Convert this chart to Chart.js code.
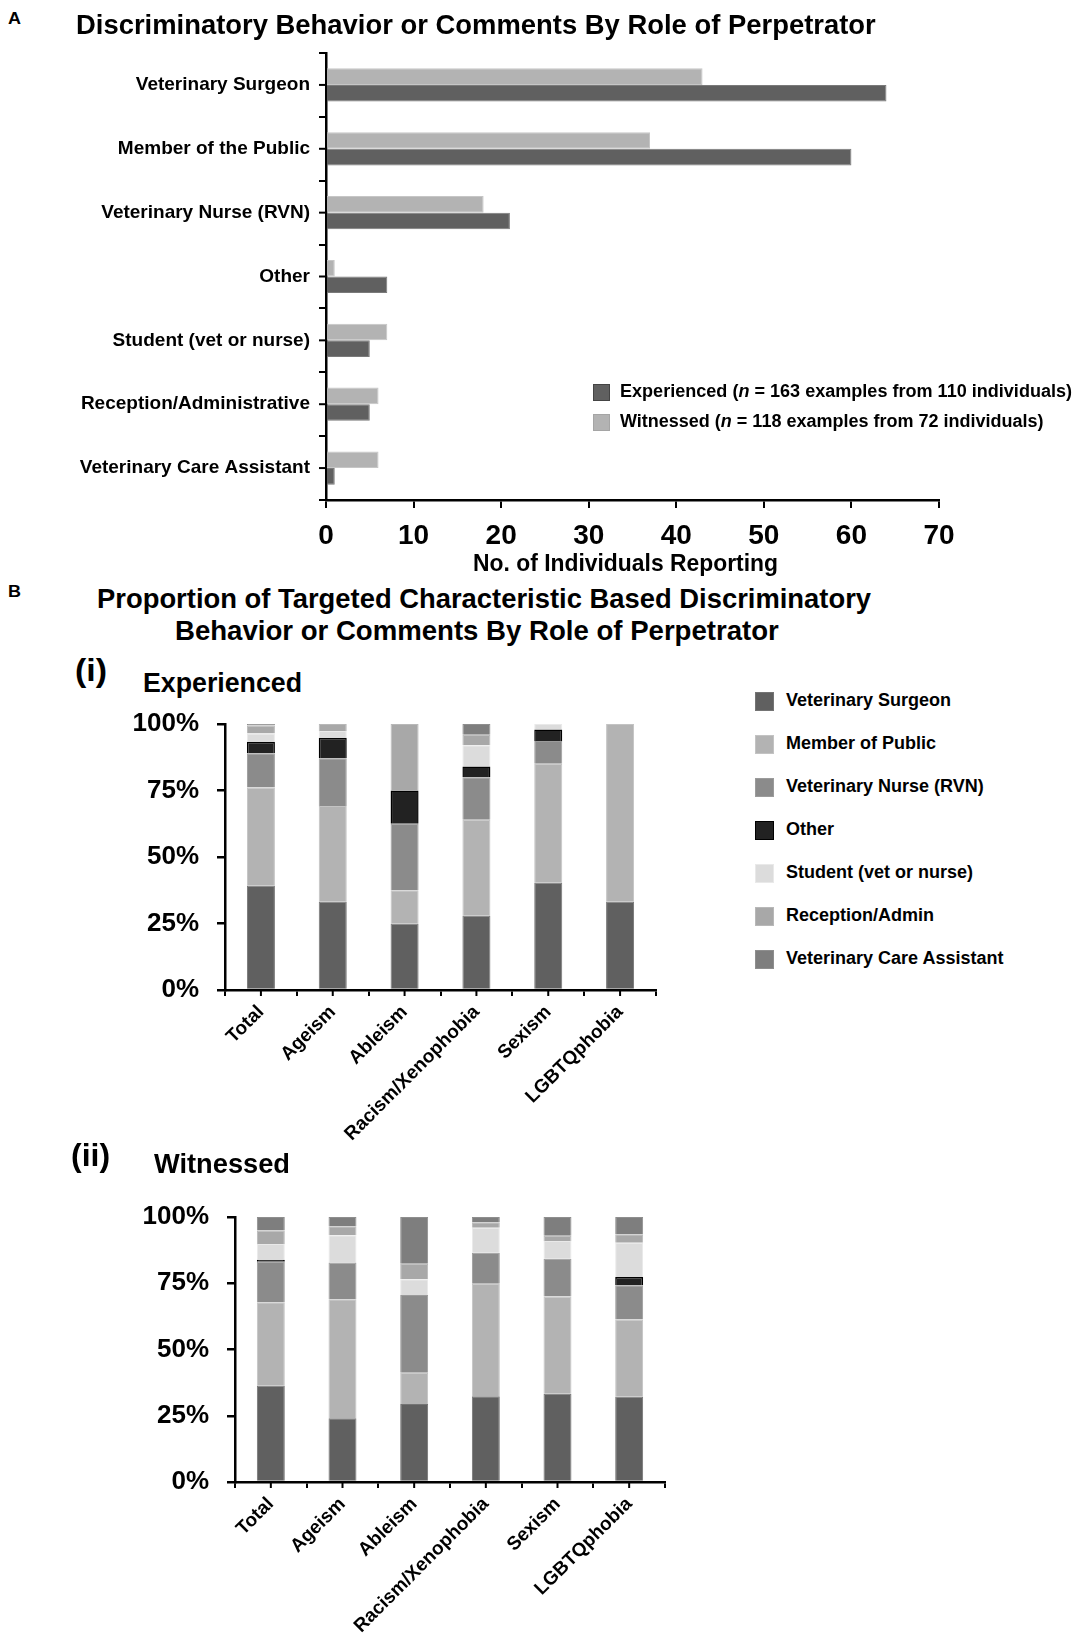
<!DOCTYPE html>
<html>
<head>
<meta charset="utf-8">
<script src="https://cdn.jsdelivr.net/npm/chart.js@4.4.1/dist/chart.umd.min.js"></script>
<style>
  body { margin: 0; background: #fff; }
  #page { position: relative; width: 1080px; height: 1637px; background: #fff; overflow: hidden;
          font-family: 'Liberation Sans', Arial, sans-serif; font-weight: bold; color: #000; }
  canvas { position: absolute; left: 0; }
  .txt { position: absolute; white-space: nowrap; line-height: 1.2; transform-origin: 0 50%; z-index: 2; }
  .sq { position: absolute; z-index: 2; box-sizing: border-box; }
</style>
</head>
<body>
<div id="page">
  <canvas id="chartA" width="1080" height="540" style="top:40px"></canvas>
  <canvas id="chartExp" width="700" height="460" style="top:700px"></canvas>
  <canvas id="chartWit" width="700" height="447" style="top:1190px"></canvas>
</div>
<script>
// ---- Panel A data ----
const rolesA = ['Veterinary Surgeon', 'Member of the Public', 'Veterinary Nurse (RVN)', 'Other',
                'Student (vet or nurse)', 'Reception/Administrative', 'Veterinary Care Assistant'];
const experiencedCounts = [64, 60, 21, 7, 5, 5, 1];
const witnessedCounts = [43, 37, 18, 1, 7, 6, 6];

// ---- Panel B data (percent of examples, per characteristic) ----
const characteristics = ['Total', 'Ageism', 'Ableism', 'Racism/Xenophobia', 'Sexism', 'LGBTQphobia'];
const rolesB = ['Veterinary Surgeon', 'Member of Public', 'Veterinary Nurse (RVN)', 'Other',
                'Student (vet or nurse)', 'Reception/Admin', 'Veterinary Care Assistant'];
const roleColors = ['#606060', '#b3b3b3', '#8b8b8b', '#222222', '#dcdcdc', '#a8a8a8', '#7e7e7e'];
const roleBorders = ['#747474', '#c3c3c3', '#9b9b9b', '#000000', '#e9e9e9', '#b8b8b8', '#8e8e8e'];

// experienced
const expSurgeon    = [39.3, 33.3, 25.0, 28.0, 40.4, 33.3];
const expPublic     = [36.8, 35.9, 12.5, 36.0, 44.7, 66.7];
const expNurse      = [12.9, 17.9, 25.0, 16.0,  8.5,  0];
const expOther      = [ 4.3,  7.7, 12.5,  4.0,  4.3,  0];
const expStudent    = [ 3.1,  2.6,  0,    8.0,  2.1,  0];
const expReception  = [ 3.0,  2.6, 25.0,  4.0,  0,    0];
const expAssistant  = [ 0.6,  0,    0,    4.0,  0,    0];

// witnessed
const witSurgeon    = [36.4, 24.1, 29.4, 32.4, 33.3, 32.3];
const witPublic     = [31.4, 44.9, 11.8, 42.4, 36.7, 29.0];
const witNurse      = [15.3, 13.8, 29.4, 11.7, 14.2, 12.9];
const witOther      = [ 0.8,  0,    0,    0,    0,    3.2];
const witStudent    = [ 5.9, 10.3,  5.9,  9.4,  6.7, 12.9];
const witReception  = [ 5.1,  3.45, 5.9,  2.1,  2.0,  3.2];
const witAssistant  = [ 5.1,  3.45,17.6,  2.0,  7.1,  6.5];

const percentTicks = [0, 25, 50, 75, 100];

const FONT = "'Liberation Sans', Arial, sans-serif";

// draws the extra small tick marks at category centres
const centerTicks = {
    id: 'centerTicks',
    afterDraw(chart, args, opts) {
        const s = chart.scales[opts.axis];
        const ctx = chart.ctx;
        ctx.save();
        ctx.strokeStyle = '#000';
        ctx.lineWidth = 2;
        s.ticks.forEach((t, i) => {
            const p = s.getPixelForTick(i);
            ctx.beginPath();
            if (s.isHorizontal()) {
                ctx.moveTo(p, s.top);
                ctx.lineTo(p, s.top + opts.len);
            } else {
                ctx.moveTo(s.right - opts.len, p);
                ctx.lineTo(s.right, p);
            }
            ctx.stroke();
        });
        ctx.restore();
    }
};

// fixed axis boxes so the plot areas land where the figure has them
const fixWidth = w => s => { s.width = w; s.paddingTop = 0; s.paddingBottom = 0; };
const fixHeight = h => s => { s.height = h; s.paddingLeft = 0; s.paddingRight = 0; };

// --- Panel A: horizontal grouped bars ---
new Chart(document.getElementById('chartA'), {
    type: 'bar',
    data: {
        labels: rolesA,
        datasets: [
            { label: 'Witnessed', data: witnessedCounts, backgroundColor: '#b3b3b3', borderColor: '#c6c6c6',
              borderWidth: 1, categoryPercentage: 0.52, barPercentage: 1.0 },
            { label: 'Experienced', data: experiencedCounts, backgroundColor: '#606060', borderColor: '#7a7a7a',
              borderWidth: 1, categoryPercentage: 0.52, barPercentage: 1.0 }
        ]
    },
    options: {
        indexAxis: 'y',
        responsive: false,
        animation: false,
        layout: { padding: { top: 13, right: 141, bottom: 0, left: 0 } },
        plugins: {
            legend: { display: false },
            tooltip: { enabled: false },
            centerTicks: { axis: 'y', len: 7 }
        },
        scales: {
            x: {
                min: 0, max: 70,
                ticks: { stepSize: 10, color: '#000', padding: 11, font: { family: FONT, size: 28, weight: 'bold' } },
                grid: { drawOnChartArea: false, tickLength: 8, color: '#000', lineWidth: 2 },
                border: { color: '#000', width: 2.5 },
                afterFit: fixHeight(80)
            },
            y: {
                ticks: { color: '#000', padding: 9, font: { family: FONT, size: 19, weight: 'bold' } },
                grid: { drawOnChartArea: false, tickLength: 7, color: '#000', lineWidth: 2, offset: true },
                border: { color: '#000', width: 2.5 },
                afterFit: fixWidth(326)
            }
        }
    },
    plugins: [centerTicks]
});

// --- Panel B: 100% stacked columns ---
function stackedChart(id, series, axisWidth, padTop, padRight, axisHeight) {
    new Chart(document.getElementById(id), {
        type: 'bar',
        data: {
            labels: characteristics,
            datasets: series.map((d, i) => ({
                label: rolesB[i], data: d,
                backgroundColor: roleColors[i], borderColor: roleBorders[i],
                borderWidth: i === 3 ? 1.5 : 1,
                categoryPercentage: 1.0, barPercentage: 0.39
            }))
        },
        options: {
            responsive: false,
            animation: false,
            layout: { padding: { top: padTop, right: padRight, bottom: 0, left: 0 } },
            plugins: {
                legend: { display: false },
                tooltip: { enabled: false },
                centerTicks: { axis: 'x', len: 6 }
            },
            scales: {
                x: {
                    stacked: true,
                    ticks: { color: '#000', padding: 5, maxRotation: 45, minRotation: 45, autoSkip: false,
                             font: { family: FONT, size: 19, weight: 'bold' } },
                    grid: { drawOnChartArea: false, tickLength: 6, color: '#000', lineWidth: 2, offset: true },
                    border: { color: '#000', width: 2.5 },
                    afterFit: fixHeight(axisHeight)
                },
                y: {
                    stacked: true, min: 0, max: 100,
                    afterBuildTicks: s => { s.ticks = percentTicks.map(v => ({ value: v })); },
                    ticks: { color: '#000', padding: 18, callback: v => v + '%',
                             font: { family: FONT, size: 26, weight: 'bold' } },
                    grid: { drawOnChartArea: false, tickLength: 8, color: '#000', lineWidth: 2.5 },
                    border: { color: '#000', width: 2.5 },
                    afterFit: fixWidth(axisWidth)
                }
            }
        },
        plugins: [centerTicks]
    });
}

stackedChart('chartExp', [expSurgeon, expPublic, expNurse, expOther, expStudent, expReception, expAssistant],
             225, 24, 44, 170);
stackedChart('chartWit', [witSurgeon, witPublic, witNurse, witOther, witStudent, witReception, witAssistant],
             235, 27, 35, 155);

// --- Text and legends (HTML) ---
const page = document.getElementById('page');
const texts = [
    { html: 'A', x: 8, cy: 19, w: 13, size: 17 },
    { html: 'Discriminatory Behavior or Comments By Role of Perpetrator', x: 76, cy: 25, w: 800, size: 28 },
    { html: 'No. of Individuals Reporting', x: 473, cy: 563, w: 305, size: 24 },
    { html: 'Experienced (<i>n</i> = 163 examples from 110 individuals)', x: 620, cy: 392, w: 452, size: 18 },
    { html: 'Witnessed (<i>n</i> = 118 examples from 72 individuals)', x: 620, cy: 422, w: 0, size: 18 },
    { html: 'B', x: 8, cy: 592, w: 13, size: 17 },
    { html: 'Proportion of Targeted Characteristic Based Discriminatory', x: 97, cy: 599, w: 774, size: 28 },
    { html: 'Behavior or Comments By Role of Perpetrator', x: 175, cy: 631, w: 604, size: 28 },
    { html: '(i)', x: 75, cy: 671, w: 32, size: 31 },
    { html: 'Experienced', x: 143, cy: 683, w: 159, size: 27 },
    { html: '(ii)', x: 71, cy: 1156, w: 39, size: 31 },
    { html: 'Witnessed', x: 154, cy: 1164, w: 136, size: 27 }
];
texts.forEach(t => {
    const el = document.createElement('div');
    el.className = 'txt';
    el.innerHTML = t.html;
    el.style.fontSize = t.size + 'px';
    el.style.left = t.x + 'px';
    el.style.top = (t.cy - t.size * 0.6) + 'px';
    page.appendChild(el);
    if (t.w) {
        const k = t.w / el.getBoundingClientRect().width;
        el.style.transform = 'scaleX(' + k.toFixed(3) + ')';
    }
});

function square(x, cy, size, fill, border) {
    const el = document.createElement('div');
    el.className = 'sq';
    el.style.left = x + 'px';
    el.style.top = (cy - size / 2) + 'px';
    el.style.width = size + 'px';
    el.style.height = size + 'px';
    el.style.background = fill;
    el.style.border = '1px solid ' + border;
    page.appendChild(el);
}

// legend A
square(593, 392, 17, '#606060', '#444');
square(593, 422, 17, '#b3b3b3', '#a5a5a5');

// legend B
rolesB.forEach((r, i) => {
    const cy = 701 + i * 43;
    square(755, cy, 19, roleColors[i], i === 3 ? '#000' : roleBorders[i]);
    const el = document.createElement('div');
    el.className = 'txt';
    el.textContent = r;
    el.style.fontSize = '18px';
    el.style.left = '786px';
    el.style.top = (cy - 18 * 0.6) + 'px';
    page.appendChild(el);
});
</script>
</body>
</html>
